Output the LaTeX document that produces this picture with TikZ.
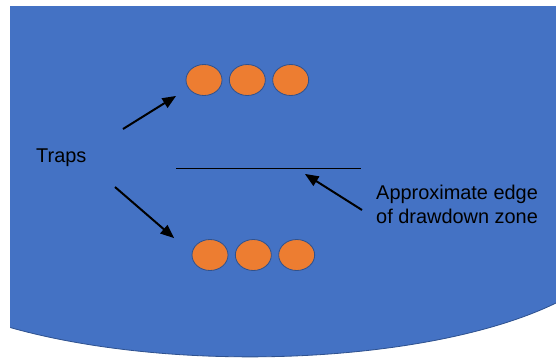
\documentclass[tikz,border=0pt]{standalone}
\usepackage{fontspec}
\setmainfont{Liberation Sans}
\usetikzlibrary{arrows,shapes.geometric}

\definecolor{zoneblue}{HTML}{4472C4}
\definecolor{zoneedge}{HTML}{2F528F}
\definecolor{traporange}{HTML}{ED7D31}

\begin{document}
\begin{tikzpicture}[x=0.03cm,y=-0.03cm,node distance=1.3cm,
    trap/.style={ellipse,draw=zoneedge,fill=traporange,line width=0.7pt,
                 minimum width=1.08cm,minimum height=0.93cm,inner sep=0pt},
    note/.style={font=\fontsize{17}{20.4}\selectfont,inner sep=0pt},
    pointer/.style={-triangle 45,line width=1.7pt}]
    \useasboundingbox (0,0) rectangle (556,358);
    % drawdown zone
    \fill[zoneblue] (10,6) -- (556,6) -- (556,303)
      arc[start angle=34.2,end angle=130.4,x radius=370,y radius=123] -- cycle;
    \draw[zoneedge,line width=0.7pt] (556,303)
      arc[start angle=34.2,end angle=130.4,x radius=370,y radius=123];
    % traps
    \node[trap] (T1) at (204,80) {};
    \node[trap] (T2) [right of=T1] {};
    \node[trap] (T3) [right of=T2] {};
    \node[trap] (B1) at (210,255) {};
    \node[trap] (B2) [right of=B1] {};
    \node[trap] (B3) [right of=B2] {};
    \node[note,anchor=base west] (traps) at (36,162) {Traps};
    \node[note,anchor=west,align=left] (edge) at (376,204) {Approximate edge\\of drawdown zone};
    \coordinate (up) at (123,129);
    \coordinate (uptip) at (176,96);
    \coordinate (down) at (115,187);
    \coordinate (downtip) at (174,238);
    \coordinate (lineL) at (176,168);
    \coordinate (lineR) at (361,168);
    \coordinate (ptail) at (362,210);
    \coordinate (ptip) at (305,174);
    \draw[line width=0.8pt] (lineL) -- (lineR);
    \draw[pointer] (up) -- (uptip);
    \draw[pointer] (down) -- (downtip);
    \draw[pointer] (ptail) -- (ptip);
\end{tikzpicture}
\end{document}
